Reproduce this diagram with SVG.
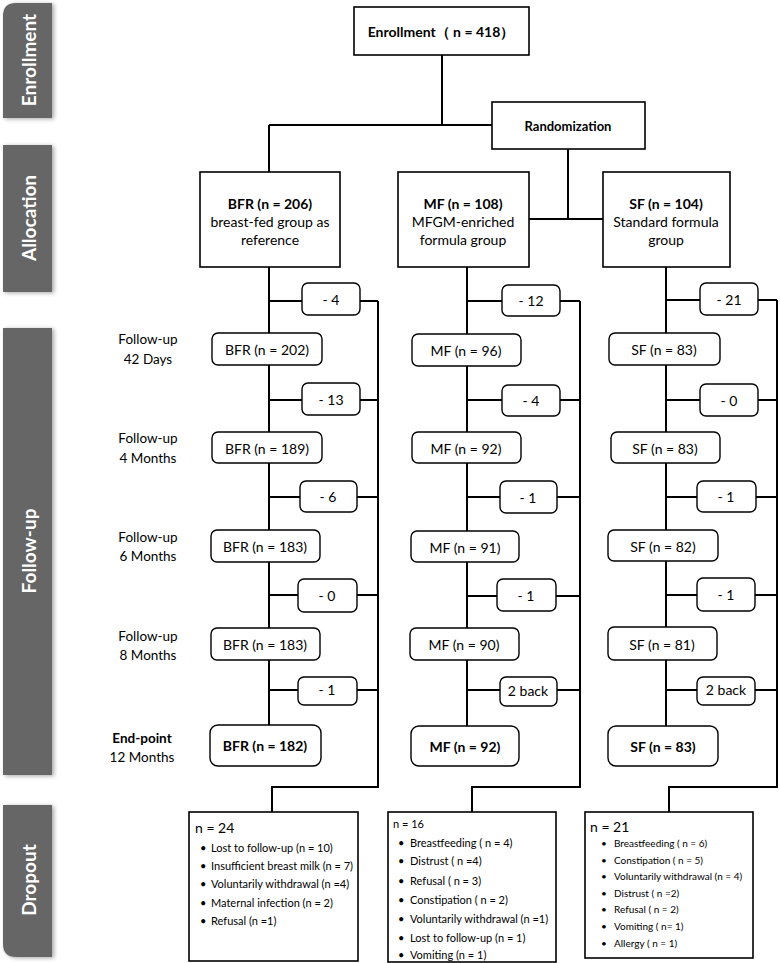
<svg xmlns="http://www.w3.org/2000/svg" width="780" height="963" viewBox="0 0 780 963">
<defs>
<filter id="sh" x="-30%" y="-10%" width="160%" height="120%">
<feGaussianBlur in="SourceAlpha" stdDeviation="2"/>
<feOffset dx="2" dy="1" result="b"/>
<feFlood flood-color="#000" flood-opacity="0.35"/>
<feComposite in2="b" operator="in"/>
<feMerge><feMergeNode/><feMergeNode in="SourceGraphic"/></feMerge>
</filter>
</defs>
<style>
text{font-family:Lato,"Liberation Sans",sans-serif;fill:#000}
.tab{fill:#666;filter:url(#sh)}
.tabt{fill:#fff;font-weight:bold;font-size:19px;text-anchor:middle;dominant-baseline:central}
.box{fill:#fff;stroke:#000;stroke-width:1.6}
.rb{fill:#fff;stroke:#000;stroke-width:1.4}
.c{text-anchor:middle;dominant-baseline:central}
.b{font-weight:bold}
.t14{font-size:14px}
.t13{font-size:13px}
.lbl{font-size:13.5px;text-anchor:middle;dominant-baseline:central}
.d{font-size:11px;dominant-baseline:central}
.ds{font-size:10px;dominant-baseline:central}
.con path{fill:none;stroke:#000;stroke-width:2}
</style>

<g id="tabs">
<path class="tab" d="M16,3 H52 V118 H3 V16 Q3,3 16,3 Z"/>
<text class="tabt" transform="translate(28,60) rotate(-90)">Enrollment</text>
<rect class="tab" x="3" y="145" width="49" height="147"/>
<text class="tabt" transform="translate(28,218) rotate(-90)">Allocation</text>
<rect class="tab" x="3" y="328" width="49" height="447"/>
<text class="tabt" transform="translate(28,551) rotate(-90)">Follow-up</text>
<path class="tab" d="M3,805 H52 V957 H16 Q3,957 3,944 Z"/>
<text class="tabt" transform="translate(28,880) rotate(-90)">Dropout</text>
</g>

<g class="con" id="connectors">
<path d="M442,55 V125 M269,125 H492 M269,125 V172"/>
<path d="M568,149 V219 M529,219 H603"/>
<path d="M269,267 V725"/>
<path d="M269,301 H302 M360,301 H378 M269,400 H302 M360,400 H378 M269,497 H300 M357,497 H378 M269,595 H298 M357,595 H378 M269,690 H298 M357,690 H378"/>
<path d="M378,301 V787 H272 V812"/>
<path d="M467,267 V726"/>
<path d="M467,301 H502 M560,301 H580 M467,400 H502 M560,400 H580 M467,497 H500 M557,497 H580 M467,596 H497 M556,596 H580 M467,690 H500 M557,690 H580"/>
<path d="M580,301 V787 H472 V812"/>
<path d="M666,267 V726"/>
<path d="M666,300 H700 M758,300 H777 M666,400 H700 M758,400 H777 M666,497 H697 M756,497 H777 M666,595 H697 M755,595 H777 M666,690 H697 M755,690 H777"/>
<path d="M777,300 V787 H669 V812"/>
</g>

<g id="enrollment">
<rect class="box" x="354" y="7" width="175" height="48"/>
<text class="c b t14" x="441" y="31">Enrollment（ n = 418）</text>
</g>
<g id="randomization">
<rect class="box" x="492" y="102" width="153" height="47"/>
<text class="c b t13" x="568" y="126">Randomization</text>
</g>

<g id="bfr">
<rect class="box" x="200" y="172" width="140" height="95"/>
<text class="c b t14" x="270" y="203">BFR (n = 206)</text>
<text class="c t14" x="270" y="221">breast-fed group as</text>
<text class="c t14" x="270" y="239">reference</text>
</g>
<g id="mf">
<rect class="box" x="398" y="172" width="131" height="95"/>
<text class="c b t14" x="463" y="203">MF (n = 108)</text>
<text class="c t14" x="463" y="221">MFGM-enriched</text>
<text class="c t14" x="463" y="239">formula group</text>
</g>
<g id="sf">
<rect class="box" x="603" y="172" width="127" height="95"/>
<text class="c b t14" x="666" y="203">SF (n = 104)</text>
<text class="c t14" x="666" y="221">Standard formula</text>
<text class="c t14" x="666" y="239">group</text>
</g>

<g id="labels">
<text class="lbl" x="148" y="339">Follow-up</text>
<text class="lbl" x="148" y="359">42 Days</text>
<text class="lbl" x="148" y="438">Follow-up</text>
<text class="lbl" x="148" y="458">4  Months</text>
<text class="lbl" x="148" y="537">Follow-up</text>
<text class="lbl" x="148" y="556">6  Months</text>
<text class="lbl" x="148" y="636">Follow-up</text>
<text class="lbl" x="148" y="655">8  Months</text>
<text class="lbl b" x="142" y="738">End-point</text>
<text class="lbl" x="142" y="757">12  Months</text>
</g>

<g id="bfr-steps">
<rect class="rb" x="302" y="283" width="58" height="32" rx="6"/><text class="c t14" x="331" y="299">- 4</text>
<rect class="rb" x="212" y="333" width="110" height="32" rx="6"/><text class="c t14" x="267" y="349">BFR (n = 202)</text>
<rect class="rb" x="302" y="383" width="58" height="32" rx="6"/><text class="c t14" x="331" y="399">- 13</text>
<rect class="rb" x="212" y="432" width="110" height="31" rx="6"/><text class="c t14" x="267" y="448">BFR (n = 189)</text>
<rect class="rb" x="300" y="481" width="57" height="31" rx="6"/><text class="c t14" x="328" y="496">- 6</text>
<rect class="rb" x="211" y="530" width="109" height="32" rx="6"/><text class="c t14" x="265" y="546">BFR (n = 183)</text>
<rect class="rb" x="298" y="579" width="59" height="33" rx="6"/><text class="c t14" x="327" y="595">- 0</text>
<rect class="rb" x="211" y="628" width="109" height="32" rx="6"/><text class="c t14" x="265" y="644">BFR (n = 183)</text>
<rect class="rb" x="298" y="677" width="59" height="28" rx="6"/><text class="c t14" x="327" y="689">- 1</text>
<rect class="rb" x="210" y="725" width="111" height="41" rx="8"/><text class="c b t14" x="265" y="745">BFR (n = 182)</text>
</g>

<g id="mf-steps">
<rect class="rb" x="502" y="285" width="58" height="31" rx="6"/><text class="c t14" x="531" y="300">- 12</text>
<rect class="rb" x="412" y="334" width="109" height="32" rx="6"/><text class="c t14" x="466" y="350">MF (n = 96)</text>
<rect class="rb" x="502" y="385" width="58" height="31" rx="6"/><text class="c t14" x="531" y="400">- 4</text>
<rect class="rb" x="412" y="432" width="109" height="31" rx="6"/><text class="c t14" x="466" y="448">MF (n = 92)</text>
<rect class="rb" x="500" y="481" width="57" height="32" rx="6"/><text class="c t14" x="528" y="497">- 1</text>
<rect class="rb" x="411" y="531" width="108" height="31" rx="6"/><text class="c t14" x="465" y="547">MF (n = 91)</text>
<rect class="rb" x="497" y="579" width="59" height="32" rx="6"/><text class="c t14" x="526" y="595">- 1</text>
<rect class="rb" x="410" y="628" width="109" height="32" rx="6"/><text class="c t14" x="464" y="644">MF (n = 90)</text>
<rect class="rb" x="500" y="677" width="57" height="29" rx="6"/><text class="c t14" x="528" y="690">2 back</text>
<rect class="rb" x="411" y="726" width="108" height="40" rx="8"/><text class="c b t14" x="465" y="746">MF (n = 92)</text>
</g>

<g id="sf-steps">
<rect class="rb" x="700" y="283" width="58" height="32" rx="6"/><text class="c t14" x="729" y="299">- 21</text>
<rect class="rb" x="609" y="333" width="111" height="32" rx="6"/><text class="c t14" x="664" y="349">SF (n = 83)</text>
<rect class="rb" x="700" y="384" width="58" height="32" rx="6"/><text class="c t14" x="729" y="400">- 0</text>
<rect class="rb" x="611" y="432" width="109" height="31" rx="6"/><text class="c t14" x="665" y="448">SF (n = 83)</text>
<rect class="rb" x="697" y="481" width="59" height="31" rx="6"/><text class="c t14" x="726" y="496">- 1</text>
<rect class="rb" x="608" y="530" width="110" height="31" rx="6"/><text class="c t14" x="663" y="546">SF (n = 82)</text>
<rect class="rb" x="697" y="578" width="58" height="33" rx="6"/><text class="c t14" x="726" y="594">- 1</text>
<rect class="rb" x="608" y="627" width="109" height="33" rx="6"/><text class="c t14" x="662" y="644">SF (n = 81)</text>
<rect class="rb" x="697" y="677" width="58" height="28" rx="6"/><text class="c t14" x="726" y="689">2 back</text>
<rect class="rb" x="608" y="726" width="110" height="40" rx="8"/><text class="c b t14" x="663" y="746">SF (n = 83)</text>
</g>

<g id="bfr-dropout">
<rect class="box" x="189" y="812" width="169" height="149"/>
<text class="t14" x="195" y="827" dominant-baseline="central">n = 24</text>
<text class="d" x="200" y="847">•</text><text class="d" x="211" y="847">Lost to follow-up (n = 10)</text>
<text class="d" x="200" y="865">•</text><text class="d" x="211" y="865">Insufficient breast milk (n = 7)</text>
<text class="d" x="200" y="883">•</text><text class="d" x="211" y="883">Voluntarily withdrawal (n =4)</text>
<text class="d" x="200" y="902">•</text><text class="d" x="211" y="902">Maternal infection (n = 2)</text>
<text class="d" x="200" y="920">•</text><text class="d" x="211" y="920">Refusal (n =1)</text>
</g>
<g id="mf-dropout">
<rect class="box" x="388" y="812" width="168" height="150"/>
<text class="d" x="393" y="823">n = 16</text>
<text class="d" x="398" y="842">•</text><text class="d" x="410" y="842">Breastfeeding ( n = 4)</text>
<text class="d" x="398" y="860">•</text><text class="d" x="410" y="860">Distrust ( n =4)</text>
<text class="d" x="398" y="880">•</text><text class="d" x="410" y="880">Refusal ( n = 3)</text>
<text class="d" x="398" y="899">•</text><text class="d" x="410" y="899">Constipation ( n = 2)</text>
<text class="d" x="398" y="918">•</text><text class="d" x="410" y="918">Voluntarily withdrawal (n =1)</text>
<text class="d" x="398" y="937">•</text><text class="d" x="410" y="937">Lost to follow-up (n = 1)</text>
<text class="d" x="398" y="954">•</text><text class="d" x="410" y="954">Vomiting (n = 1)</text>
</g>
<g id="sf-dropout">
<rect class="box" x="585" y="812" width="168" height="146"/>
<text class="t14" x="590" y="826" dominant-baseline="central">n = 21</text>
<text class="ds" x="601" y="843">•</text><text class="ds" x="614" y="843">Breastfeeding ( n = 6)</text>
<text class="ds" x="601" y="860">•</text><text class="ds" x="614" y="860">Constipation ( n = 5)</text>
<text class="ds" x="601" y="876">•</text><text class="ds" x="614" y="876">Voluntarily withdrawal (n = 4)</text>
<text class="ds" x="601" y="893">•</text><text class="ds" x="614" y="893">Distrust ( n =2)</text>
<text class="ds" x="601" y="909">•</text><text class="ds" x="614" y="909">Refusal ( n = 2)</text>
<text class="ds" x="601" y="926">•</text><text class="ds" x="614" y="926">Vomiting ( n= 1)</text>
<text class="ds" x="601" y="943">•</text><text class="ds" x="614" y="943">Allergy ( n = 1)</text>
</g>
</svg>
